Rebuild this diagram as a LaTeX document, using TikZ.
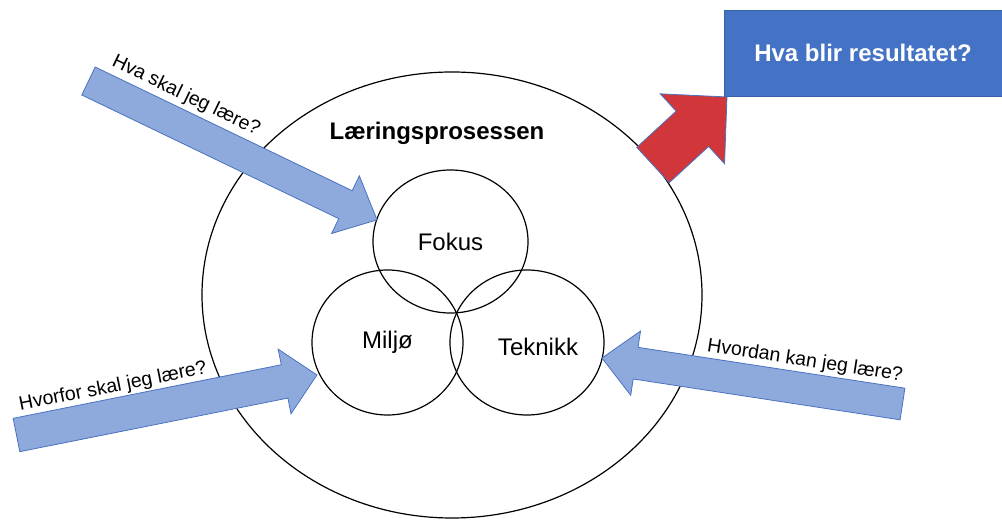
\documentclass[tikz,border=0pt]{standalone}
\usepackage{fontspec}
\setmainfont{Liberation Sans}
\usetikzlibrary{shapes.geometric}
\definecolor{arrfill}{HTML}{8EA9DC}
\definecolor{arrline}{HTML}{4A72C0}
\definecolor{redfill}{HTML}{D0363A}
\definecolor{boxblue}{HTML}{4472C4}
\newcommand{\blockarr}[8]{% style, tail coord, angle, length, shaft w, head w, head len, unused
  \begin{scope}[shift={(#2)}, rotate=#3]
    \draw[#1] (0,-#5/2) -- (#4-#7,-#5/2) -- (#4-#7,-#6/2) -- (#4,0) -- (#4-#7,#6/2) -- (#4-#7,#5/2) -- (0,#5/2) -- cycle;
  \end{scope}}
\tikzset{
  circ/.style={ellipse, draw=black, line width=1.2pt, inner sep=0pt, font=\fontsize{24}{28}\selectfont},
  bluearr/.style={fill=arrfill, draw=arrline, line width=0.8pt, line join=miter},
  redarr/.style={fill=redfill, draw=arrline, line width=0.8pt, line join=miter},
  qlabel/.style={font=\fontsize{19.5}{23}\selectfont, inner sep=0pt},
  resbox/.style={fill=boxblue, draw=boxblue!85!black, line width=0.6pt, text=white, font=\bfseries\fontsize{24}{28}\selectfont, minimum width=278pt, minimum height=86pt, inner sep=0pt}
}
\begin{document}
\begin{tikzpicture}[x=1pt,y=1pt]
\useasboundingbox (0,0) rectangle (1002,520);
% big process ellipse
\node[circ, minimum width=500pt, minimum height=446pt] (proc) at (452,225) {};
\node[font=\bfseries\fontsize{24}{28}\selectfont] (title) at (437,387) {Læringsprosessen};
% three circles
\node[circ, minimum width=155pt, minimum height=143pt] (fokus) at (450.5,278.5) {Fokus};
\node[circ, minimum width=151pt, minimum height=145pt] (miljo) at (387.5,177.5) {Miljø};
\node[circ, minimum width=154pt, minimum height=145pt] (teknikk) at (527,177.5) {};
\node[font=\fontsize{24}{28}\selectfont] (teklabel) at (538,173) {Teknikk};
% result box
\node[resbox] (res) at (863,467) {Hva blir resultatet?};
% arrow anchor coordinates
\coordinate (t1) at (88.5,439);
\coordinate (t2) at (16.5,85);
\coordinate (t3) at (902.5,116);
\coordinate (t4) at (653,355);
% arrows
\blockarr{bluearr}{t1}{-25.7}{320.2}{31}{64}{35}{}
\blockarr{bluearr}{t2}{11.3}{306.4}{34}{66}{33}{}
\blockarr{bluearr}{t3}{171.3}{304}{32}{65}{34}{}
\blockarr{redarr}{t4}{42.6}{100.5}{48}{95}{47}{}
% labels
\node[qlabel, rotate=-25.7] (q1) at (186,424) {Hva skal jeg lære?};
\node[qlabel, rotate=11.3] (q2) at (113,133) {Hvorfor skal jeg lære?};
\node[qlabel, rotate=-8.7] (q3) at (805,159) {Hvordan kan jeg lære?};
\end{tikzpicture}
\end{document}
